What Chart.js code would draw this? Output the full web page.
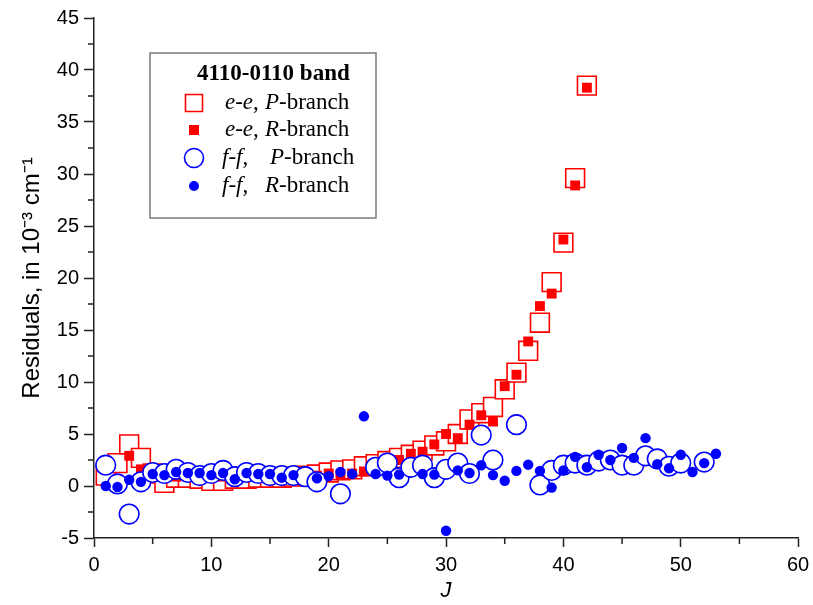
<!DOCTYPE html>
<html>
<head>
<meta charset="utf-8">
<script src="https://cdn.jsdelivr.net/npm/chart.js@4/dist/chart.umd.min.js"></script>
<style>
html,body{margin:0;padding:0;background:#fff;}
#wrap{width:813px;height:605px;}
</style>
</head>
<body>
<div id="wrap"><canvas id="c" width="813" height="605"></canvas></div>
<script>
// ---- data ----
const eePJ = [1,2,3,4,5,6,7,8,9,10,11,12,13,14,15,16,17,18,19,20,21,22,23,24,25,26,27,28,29,30,31,32,33,34,35,36,37,38,39,40,41,42];
const eePV = [1.0,2.2,4.0,2.7,1.2,0.3,0.8,0.8,0.7,0.5,0.5,0.7,0.7,0.8,0.8,0.8,0.9,1.0,1.1,1.3,1.5,1.6,1.9,2.1,2.4,2.7,3.0,3.4,3.9,4.3,5.0,6.4,7.0,7.6,9.3,10.9,13.0,15.7,19.6,23.4,29.6,38.5];

const eeRJ = [3,4,5,6,7,8,9,10,11,12,13,14,15,16,17,18,19,20,21,22,23,24,25,26,27,28,29,30,31,32,33,34,35,36,37,38,39,40,41,42];
const eeRV = [2.9,1.6,1.2,1.0,0.9,0.9,0.9,0.9,0.9,0.9,0.9,0.9,0.9,0.9,0.9,1.0,1.0,1.2,1.1,1.2,1.4,1.6,2.0,2.5,3.1,3.3,4.0,5.0,4.6,5.9,6.8,6.2,9.6,10.7,13.9,17.3,18.5,23.7,28.9,38.3];

const ffPJ = [1,2,3,4,5,6,7,8,9,10,11,12,13,14,15,16,17,18,19,21,24,25,26,27,28,29,30,31,32,33,34,36,38,39,40,41,42,43,44,45,46,47,48,49,50,52];
const ffPV = [2.0,0.2,-2.7,0.4,1.3,1.2,1.6,1.3,1.0,1.2,1.5,0.9,1.3,1.2,1.0,1.0,1.0,0.9,0.4,-0.75,1.8,2.2,0.8,1.8,2.0,0.8,1.6,2.2,1.2,4.9,2.5,5.9,0.1,1.5,2.0,2.2,2.0,2.4,2.5,2.0,2.0,2.9,2.6,1.9,2.2,2.3];

const ffRJ = [1,2,3,4,5,6,7,8,9,10,11,12,13,14,15,16,17,19,20,21,22,23,24,25,26,28,29,30,31,32,33,34,35,36,37,38,39,40,41,42,43,44,45,46,47,48,49,50,51,52,53];
const ffRV = [0.0,-0.1,0.6,0.4,1.15,1.05,1.35,1.25,1.25,1.05,1.25,0.65,1.25,1.15,1.15,0.8,1.05,0.75,0.95,1.35,1.15,6.7,1.15,1.0,1.1,1.15,1.1,-4.3,1.5,1.25,2.0,1.05,0.5,1.45,2.05,1.45,-0.15,1.5,2.8,1.8,3.0,2.5,3.65,2.7,4.6,2.1,1.7,3.0,1.35,2.2,3.1];

const xTicks = [0,10,20,30,40,50,60];
const yTicks = [-5,0,5,10,15,20,25,30,35,40,45];
const xMinor = [5,15,25,35,45,55];
const yMinor = [-2.5,2.5,7.5,12.5,17.5,22.5,27.5,32.5,37.5,42.5];

const legendTitle = '4110-0110 band';
const legendRows = [
  [{t:'e-e', i:true},{t:', '},{t:'P', i:true, x:265},{t:'-branch'}],
  [{t:'e-e', i:true},{t:', '},{t:'R', i:true, x:265},{t:'-branch'}],
  [{t:'f-f', i:true},{t:','},{t:'P', i:true, x:270},{t:'-branch'}],
  [{t:'f-f', i:true},{t:','},{t:'R', i:true, x:265},{t:'-branch'}]
];

const RED = '#ff0000', BLUE = '#0000ff';
const toPts = (J,V) => J.map((j,k)=>({x:j,y:V[k]}));

const datasets = [
  {label:'f-f, R-branch', data:toPts(ffRJ,ffRV), pointStyle:'circle', pointRadius:5.2, backgroundColor:BLUE, borderColor:BLUE, borderWidth:0, order:1},
  {label:'f-f, P-branch', data:toPts(ffPJ,ffPV), pointStyle:'circle', pointRadius:9.8, backgroundColor:'#ffffff', borderColor:BLUE, borderWidth:1.6, order:2},
  {label:'e-e, R-branch', data:toPts(eeRJ,eeRV), pointStyle:'rect', pointRadius:7, backgroundColor:RED, borderColor:RED, borderWidth:0, order:3},
  {label:'e-e, P-branch', data:toPts(eePJ,eePV), pointStyle:'rect', pointRadius:13.3, backgroundColor:'#ffffff', borderColor:RED, borderWidth:1.6, order:4}
];

const minorTicks = {
  id:'minorTicks',
  afterDraw(chart){
    const ctx = chart.ctx, xs = chart.scales.x, ys = chart.scales.y;
    const a = chart.chartArea;
    ctx.save();
    ctx.strokeStyle = '#222'; ctx.lineWidth = 1.5;
    ctx.beginPath();
    yMinor.forEach(v=>{ const p = ys.getPixelForValue(v); ctx.moveTo(a.left-6, p); ctx.lineTo(a.left, p); });
    xMinor.forEach(v=>{ const p = xs.getPixelForValue(v); ctx.moveTo(p, a.bottom); ctx.lineTo(p, a.bottom+6); });
    ctx.stroke();
    ctx.restore();
  }
};

const boxLegend = {
  id:'boxLegend',
  afterDatasetsDraw(chart){
    const ctx = chart.ctx;
    ctx.save();
    ctx.fillStyle = '#fff';
    ctx.fillRect(150,53,226,165);
    ctx.strokeStyle = '#7a7a7a'; ctx.lineWidth = 1.5;
    ctx.strokeRect(150,53,226,165);
    ctx.fillStyle = '#000'; ctx.textBaseline = 'middle'; ctx.textAlign = 'left';
    ctx.font = 'bold 23px "Liberation Serif"';
    ctx.fillText(legendTitle, 197, 74);
    const rowsY = [103,130,158,186];
    const mx = 194;
    const order = [3,2,1,0];
    order.forEach((di,r)=>{
      const ds = chart.data.datasets[di];
      const y = rowsY[r];
      ctx.beginPath();
      if (ds.pointStyle === 'rect') {
        const s = ds.backgroundColor === '#ffffff' ? 8.5 : 5;
        ctx.rect(mx-s, y-s, 2*s, 2*s);
      } else {
        const rr = ds.backgroundColor === '#ffffff' ? 9.5 : 5;
        ctx.arc(mx, y, rr, 0, Math.PI*2);
      }
      ctx.fillStyle = ds.backgroundColor; ctx.fill();
      if (ds.borderWidth) { ctx.strokeStyle = ds.borderColor; ctx.lineWidth = ds.borderWidth; ctx.stroke(); }
      let x = (r < 2) ? 225 : 222;
      ctx.fillStyle = '#000';
      legendRows[r].forEach(seg=>{
        if (seg.x !== undefined) x = seg.x;
        ctx.font = (seg.i ? 'italic ' : '') + '23px "Liberation Serif"';
        ctx.fillText(seg.t, x, y);
        x += ctx.measureText(seg.t).width;
      });
    });
    ctx.restore();
  }
};

new Chart(document.getElementById('c'), {
  type:'scatter',
  data:{datasets},
  plugins:[minorTicks, boxLegend],
  options:{
    responsive:false,
    animation:false,
    events:[],
    layout:{padding:{left:0,right:10,top:18,bottom:0}},
    plugins:{legend:{display:false}, tooltip:{enabled:false}},
    scales:{
      x:{
        type:'linear', min:0, max:60,
        afterBuildTicks(s){ s.ticks = xTicks.map(v=>({value:v})); },
        afterFit(s){ s.height = 67; s.paddingRight = 0; s.paddingLeft = 0; },
        ticks:{color:'#000', font:{family:'"Liberation Sans"', size:20}, padding:6, maxRotation:0},
        grid:{display:true, drawOnChartArea:false, drawTicks:true, tickLength:9, color:'#222', tickWidth:1.5},
        border:{display:true, color:'#222', width:1.5},
        title:{display:true, text:'J', color:'#000', font:{family:'"Liberation Sans"', size:22, style:'italic'}, padding:{top:0,bottom:1}}
      },
      y:{
        type:'linear', min:-5, max:45,
        afterBuildTicks(s){ s.ticks = yTicks.map(v=>({value:v})); },
        afterFit(s){ s.width = 94; },
        ticks:{color:'#000', font:{family:'"Liberation Sans"', size:20}, padding:5},
        grid:{display:true, drawOnChartArea:false, drawTicks:true, tickLength:10, color:'#222', tickWidth:1.5},
        border:{display:true, color:'#222', width:1.5},
        title:{display:true, text:'Residuals, in 10\u207B\u00B3 cm\u207B\u00B9', color:'#000', font:{family:'"Liberation Sans"', size:24}, padding:{top:18,bottom:0}}
      }
    }
  }
});
</script>
</body>
</html>
